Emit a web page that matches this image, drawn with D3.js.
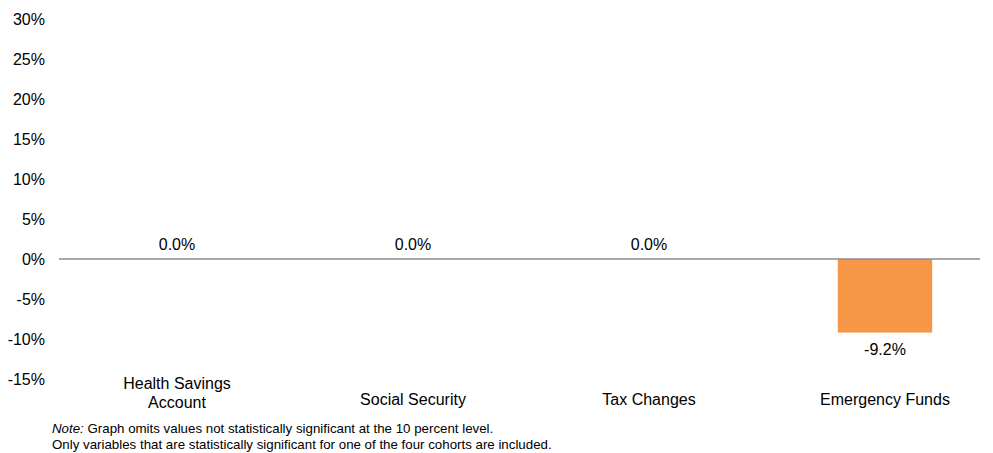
<!DOCTYPE html>
<html>
<head>
<meta charset="utf-8">
<script src="https://cdn.jsdelivr.net/npm/d3@7"></script>
<style>
  body { margin: 0; background: #fff; }
  svg { display: block; font-family: "Liberation Sans", Arial, sans-serif; }
</style>
</head>
<body>
<svg id="chart" width="993" height="453"></svg>
<script>
// Categories and values (percent)
const categories = ["Health Savings Account", "Social Security", "Tax Changes", "Emergency Funds"];
const categoryLines = [["Health Savings", "Account"], ["Social Security"], ["Tax Changes"], ["Emergency Funds"]];
const values = [0.0, 0.0, 0.0, -9.2];
const yTicks = [30, 25, 20, 15, 10, 5, 0, -5, -10, -15];
const noteItalic = "Note:";
const noteLine1 = " Graph omits values not statistically significant at the 10 percent level.";
const noteLine2 = "Only variables that are statistically significant for one of the four cohorts are included.";

const svg = d3.select("#chart");

const y = d3.scaleLinear().domain([-15, 30]).range([379, 19]);
const x = d3.scaleBand().domain(categories).range([59, 1003]).paddingInner(0.6).paddingOuter(0.3);

// Y tick labels (no axis line)
const yAxis = d3.axisLeft(y).tickValues(yTicks).tickSize(0).tickPadding(0).tickFormat(d => d + "%");
const gy = svg.append("g").attr("transform", "translate(45,0)").call(yAxis);
gy.select(".domain").remove();
gy.selectAll("text").attr("font-size", 16).attr("fill", "#000").attr("font-family", "Liberation Sans, Arial, sans-serif");

// Bars
svg.append("g").selectAll("rect")
  .data(values)
  .join("rect")
  .attr("x", (d, i) => x(categories[i]))
  .attr("width", x.bandwidth())
  .attr("y", d => y(Math.max(0, d)))
  .attr("height", d => Math.abs(y(d) - y(0)))
  .attr("fill", "#F79646");

// Zero line
svg.append("line")
  .attr("x1", 59).attr("x2", 980)
  .attr("y1", y(0)).attr("y2", y(0))
  .attr("stroke", "#8c8c8c").attr("stroke-width", 1.3);

// Value labels
svg.append("g").selectAll("text")
  .data(values)
  .join("text")
  .attr("x", (d, i) => x(categories[i]) + x.bandwidth() / 2)
  .attr("y", d => d < 0 ? y(d) + 22 : y(d) - 9)
  .attr("text-anchor", "middle")
  .attr("font-size", 16)
  .attr("fill", "#000")
  .text(d => d.toFixed(1) + "%");

// Category labels
const cat = svg.append("g").selectAll("text")
  .data(categoryLines)
  .join("text")
  .attr("x", (d, i) => x(categories[i]) + x.bandwidth() / 2)
  .attr("y", d => d.length > 1 ? 389 : 405)
  .attr("text-anchor", "middle")
  .attr("font-size", 16)
  .attr("fill", "#000");
cat.selectAll("tspan")
  .data((d, i) => d.map(t => ({ t, cx: x(categories[i]) + x.bandwidth() / 2 })))
  .join("tspan")
  .attr("x", d => d.cx)
  .attr("dy", (d, j) => j === 0 ? 0 : 19)
  .text(d => d.t);

// Footnote
const note = svg.append("text").attr("x", 52).attr("y", 433).attr("font-size", 13.3).attr("fill", "#000");
note.append("tspan").attr("font-style", "italic").text(noteItalic);
note.append("tspan").text(noteLine1);
svg.append("text").attr("x", 52).attr("y", 449).attr("font-size", 13.3).attr("fill", "#000").text(noteLine2);
</script>
</body>
</html>
